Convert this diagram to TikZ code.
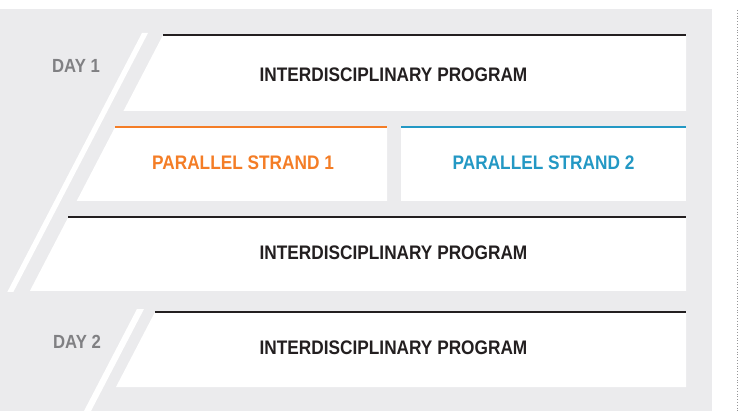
\documentclass[tikz,border=0pt]{standalone}
\usepackage{fontspec}
\newfontfamily\condensada{Liberation Sans}[FakeStretch=0.88]
\usepackage{tikz}
\definecolor{cinzafundo}{RGB}{235,235,237}
\definecolor{cinzaponto}{RGB}{150,150,152}
\definecolor{cinzatexto}{RGB}{128,128,131}
\definecolor{pretotexto}{RGB}{35,31,32}
\definecolor{laranjafaixa}{RGB}{244,125,38}
\definecolor{azulfaixa}{RGB}{35,152,196}
\tikzset{
  faixa/.style={fill=white},
  borda/.style={line width=2.6pt,pretotexto},
  faixatitulo/.style={font=\condensada\fontsize{19.6}{21}\selectfont\bfseries,
    text=pretotexto,inner sep=0pt},
  dia/.style={font=\condensada\fontsize{19}{20}\selectfont\bfseries,
    text=cinzatexto,inner sep=0pt}
}

\begin{document}
\begin{tikzpicture}[x=1pt,y=-1pt]
  \useasboundingbox (0,0) rectangle (738,411);
  \fill[cinzafundo] (0,9) rectangle (712,411);
  \draw[cinzaponto,dotted,line width=0.8pt] (737,10) -- (737,411);
  \fill[white] (142,33) -- (148,33) -- (13.3,292) -- (7.3,292) -- cycle;
  \fill[white] (137,309) -- (144,309) -- (91,411) -- (84,411) -- cycle;
  \foreach \ya/\yb in {35/111,217/291}
    {\fill[faixa] ({163-0.52*(\ya-35)},\ya) -- (686,\ya) -- (686,\yb)
      -- ({163-0.52*(\yb-35)},\yb) -- cycle;
     \draw[borda] ({163-0.52*(\ya-35)},\ya) -- (686,\ya);}
  \fill[faixa] ({163-0.52*92},127) -- (387,127) -- (387,201)
    -- ({163-0.52*166},201) -- cycle;
  \draw[laranjafaixa,line width=2.6pt] ({163-0.52*92},127) -- (387,127);
  \fill[faixa] (401,127) rectangle (686,201);
  \draw[azulfaixa,line width=2.6pt] (401,127) -- (686,127);
  \fill[faixa] (155,312) -- (686,312) -- (686,387) -- ({155-0.52*75},387) -- cycle;
  \draw[borda] (155,312) -- (686,312);
  \node[dia] (dia1) at (76,66) {DAY 1};
  \node[dia] (dia2) at (77,342) {DAY 2};
  \node[faixatitulo] (prog1) at (393.5,75) {INTERDISCIPLINARY PROGRAM};
  \node[faixatitulo,text=laranjafaixa] (fio1) at (243,163) {PARALLEL STRAND 1};
  \node[faixatitulo,text=azulfaixa] (fio2) at (543.5,163) {PARALLEL STRAND 2};
  \node[faixatitulo] (prog2) at (393.5,253) {INTERDISCIPLINARY PROGRAM};
  \node[faixatitulo] (prog3) at (393.5,348) {INTERDISCIPLINARY PROGRAM};
\end{tikzpicture}
\end{document}
